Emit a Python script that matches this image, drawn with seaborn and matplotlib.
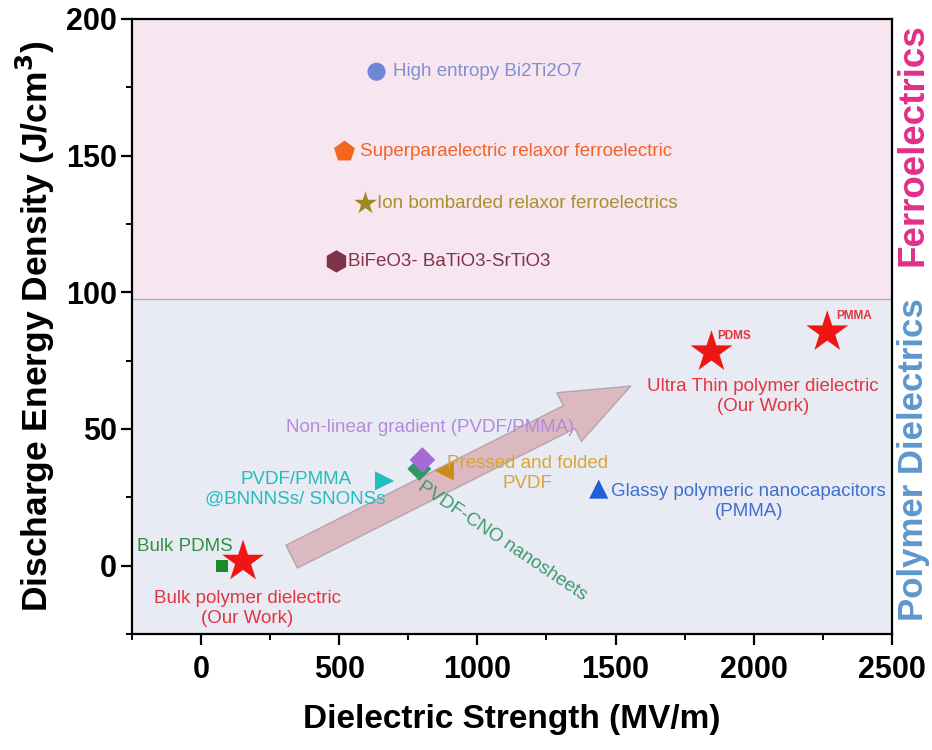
import matplotlib
matplotlib.use("Agg")
import matplotlib.pyplot as plt
from matplotlib.patches import FancyArrowPatch
from matplotlib.ticker import MultipleLocator
import pandas as pd
import seaborn as sns

# data
labels = [
    "High entropy Bi2Ti2O7",
    "Superparaelectric relaxor ferroelectric",
    "Ion bombarded relaxor ferroelectrics",
    "BiFeO3- BaTiO3-SrTiO3",
    "Bulk PDMS",
    "Bulk polymer dielectric",
    "PVDF/PMMA @BNNNSs/ SNONSs",
    "PVDF-CNO nanosheets",
    "Non-linear gradient (PVDF/PMMA)",
    "Pressed and folded PVDF",
    "Glassy polymeric nanocapacitors (PMMA)",
    "Ultra Thin PDMS",
    "Ultra Thin PMMA",
]
strength = [635, 519, 595, 490, 76, 152, 664, 790, 801, 880, 1439, 1847, 2266]
energy = [180.7, 151.5, 132.5, 111.3, 0.0, 1.5, 31.0, 35.4, 38.7, 34.7, 28.0, 78.1, 85.4]

ferro_limit = 97.5

# styles
markers = dict(zip(labels, ["o", "p", "*", "h", "s", "*", ">", "D", "D", "<", "^", "*", "*"]))
colors = dict(zip(labels, ["#6f86d8", "#f4661e", "#a08a1e", "#7c3448", "#1a8a2a", "#f01515",
                           "#1fbfc0", "#2f9a60", "#a66ad6", "#cc8a18", "#1f5fd8", "#f01515", "#f01515"]))
sizes = dict(zip(labels, [170, 250, 300, 260, 75, 1000, 190, 150, 170, 190, 190, 1000, 1000]))

red_txt = "#e3343f"
# (text, point index, offset in points, colour, extra kwargs)
notes = [
    ("High entropy Bi2Ti2O7", 0, (11.5, 0), "#7f8fcf", dict(ha="left")),
    ("Superparaelectric relaxor ferroelectric", 1, (11.5, 0), "#f0642a", dict(ha="left")),
    ("Ion bombarded relaxor ferroelectrics", 2, (8.6, 0), "#a89030", dict(ha="left")),
    ("BiFeO3- BaTiO3-SrTiO3", 3, (8.6, 0), "#80334a", dict(ha="left")),
    ("Bulk PDMS", 4, (-27, 13.7), "#2f9040", dict(ha="center")),
    ("Bulk polymer dielectric\n(Our Work)", 5, (3, -34), red_txt, dict(ha="center")),
    ("PVDF/PMMA\n@BNNNSs/ SNONSs", 6, (-64, -6), "#22bdbd", dict(ha="center")),
    ("PVDF-CNO nanosheets", 7, (60, -52), "#3d9a6a", dict(ha="center", rotation=-34, rotation_mode="anchor")),
    ("Non-linear gradient (PVDF/PMMA)", 8, (-98, 23), "#b58ad8", dict(ha="left")),
    ("Pressed and folded\nPVDF", 9, (60, -2), "#d6a637", dict(ha="center")),
    ("Glassy polymeric nanocapacitors\n(PMMA)", 10, (108, -9), "#3c6fd0", dict(ha="center")),
    ("Ultra Thin polymer dielectric\n(Our Work)", 11, (37, -32), red_txt, dict(ha="center")),
]

df = pd.DataFrame({"label": labels, "strength": strength, "energy": energy})

sns.set_theme(style="ticks")
plt.rcParams["font.family"] = ["Liberation Sans", "DejaVu Sans"]
plt.rcParams.update({"text.color": "black", "axes.labelcolor": "black",
                     "xtick.color": "black", "ytick.color": "black"})

fig = plt.figure(figsize=(9.32, 7.5), dpi=100)
ax = fig.add_axes([0.1416, 0.1547, 0.8154, 0.8200])

ax.axhspan(-25, ferro_limit, color="#e9ebf4", zorder=0)
ax.axhspan(ferro_limit, 200, color="#f7e5ef", zorder=0)
ax.axhline(ferro_limit, color="#b4aab8", lw=1, zorder=0.5)

# big trend arrow
arrow = FancyArrowPatch(
    (328, 3.3), (1555, 65.7),
    arrowstyle="simple,head_length=4.97,head_width=3.93,tail_width=1.84",
    mutation_scale=10, shrinkA=0, shrinkB=0,
    fc="#d9adb5", ec="#a89ca4", lw=1, alpha=0.8, zorder=2,
)
ax.add_patch(arrow)

sns.scatterplot(
    data=df, x="strength", y="energy", hue="label", style="label", size="label",
    palette=colors, markers=markers, sizes=sizes, linewidth=0, legend=False,
    ax=ax, zorder=3,
)

for text, i, off, col, kw in notes:
    ax.annotate(text, xy=(strength[i], energy[i]), xytext=off, textcoords="offset points",
                color=col, fontsize=13.5, va="center", linespacing=1.2, zorder=4, **kw)

ax.annotate("PDMS", xy=(strength[11], energy[11]), xytext=(4.3, 11.5), textcoords="offset points",
            color=red_txt, fontsize=8.5, fontweight="bold", ha="left", va="center")
ax.annotate("PMMA", xy=(strength[12], energy[12]), xytext=(6.5, 11.5), textcoords="offset points",
            color=red_txt, fontsize=8.5, fontweight="bold", ha="left", va="center")

ax.text(1.028, 0.795, "Ferroelectrics", transform=ax.transAxes, rotation=90,
        ha="center", va="center", fontsize=26.5, fontweight="bold", color="#e0308a")
ax.text(1.028, 0.283, "Polymer Dielectrics", transform=ax.transAxes, rotation=90,
        ha="center", va="center", fontsize=25, fontweight="bold", color="#5d97cc")

ax.set_xlim(-250, 2500)
ax.set_ylim(-25, 200)
ax.xaxis.set_major_locator(MultipleLocator(500))
ax.xaxis.set_minor_locator(MultipleLocator(250))
ax.yaxis.set_major_locator(MultipleLocator(50))
ax.yaxis.set_minor_locator(MultipleLocator(25))
ax.tick_params(which="major", length=8, width=1.6, labelsize=22, color="black", labelcolor="black")
ax.tick_params(which="minor", length=4.5, width=1.4, color="black")
ax.tick_params(axis="x", which="major", pad=7)
ax.tick_params(axis="y", which="major", pad=3)
for lab in ax.get_xticklabels() + ax.get_yticklabels():
    lab.set_fontweight("bold")
for sp in ax.spines.values():
    sp.set_linewidth(1.6)
    sp.set_color("black")

ax.set_xlabel("Dielectric Strength (MV/m)", fontsize=24, fontweight="bold", labelpad=14, color="black")
ax.set_ylabel("Discharge Energy Density (J/cm$^\\mathbf{3}$)", fontsize=25.5, fontweight="bold",
              labelpad=6, color="black")

fig.savefig("out.png", dpi=100)
